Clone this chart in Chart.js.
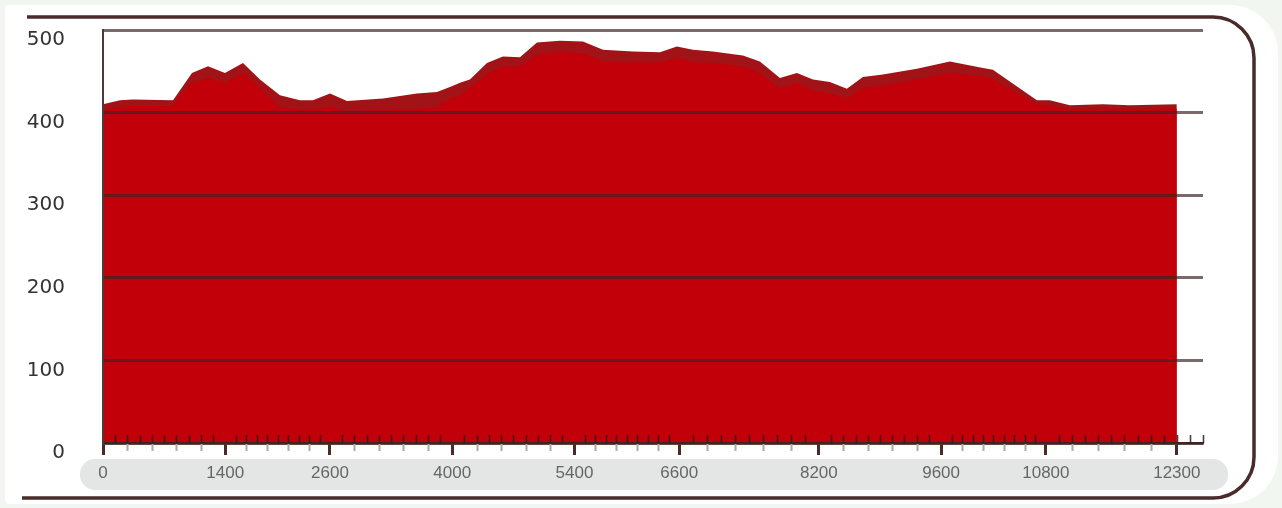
<!DOCTYPE html>
<html>
<head>
<meta charset="utf-8">
<script src="https://cdn.jsdelivr.net/npm/chart.js@4"></script>
<style>
  html, body { margin: 0; padding: 0; background: #f2f6f1; }
  #wrap { position: relative; width: 1282px; height: 508px; }
</style>
</head>
<body>
<div id="wrap"><canvas id="chartProfil"></canvas></div>
<script>
// Höhenprofil: Distanz (m) gegen Höhe (m), zwei Schichten (Kante dunkel, Fläche hell)
const DISTANZ = [0, 195, 344, 802, 882, 1019, 1203, 1397, 1603, 1798, 2027, 2256, 2405, 2600, 2795, 3207, 3596, 3825, 3974, 4089,
  4203, 4398, 4581, 4776, 4971, 5234, 5497, 5727, 6070, 6379, 6574, 6757, 6986, 7330, 7524, 7754, 7948, 8132, 8326, 8521,
  8704, 8933, 9323, 9701, 10079, 10193, 10697, 10846, 11075, 11453, 11762, 12300];
const HOEHE = [410, 415, 416, 415, 427, 448, 456, 448, 460, 440, 421, 415, 415, 423, 414, 417, 423, 425, 431, 436,
  440, 460, 468, 467, 485, 487, 486, 476, 474, 473, 480, 476, 474, 469, 462, 442, 448, 440, 437, 429,
  443, 446, 453, 462, 454, 452, 415, 415, 409, 410, 409, 410];
const HOEHE_INNEN = [404, 407, 408, 408, 421, 436, 442, 436, 448, 430, 407, 404, 403, 407, 402, 403, 404, 407, 417, 421,
  430, 446, 456, 456, 470, 474, 472, 462, 461, 461, 466, 462, 460, 456, 448, 429, 436, 427, 423, 417,
  430, 433, 440, 448, 444, 440, 410, 409, 404, 405, 404, 405];
const X_LABELS = [0, 1400, 2600, 4000, 5400, 6600, 8200, 9600, 10800, 12300];
const Y_TICKS = [0, 100, 200, 300, 400, 500];

const dunkel = '#4a2b29';

// Rahmen, weißer Hintergrund und graues Label-Band
const rahmen = {
  id: 'rahmen',
  beforeDraw(chart) {
    const c = chart.ctx;
    c.save();
    c.fillStyle = '#f2f6f1';
    c.fillRect(0, 0, chart.width, chart.height);
    c.fillStyle = '#ffffff';
    c.beginPath();
    c.roundRect(5, 5, 1273, 499, [4, 48, 48, 4]);
    c.fill();
    // Label-Band
    c.fillStyle = '#e4e5e5';
    c.beginPath();
    c.roundRect(80, 459, 1148, 31, 15);
    c.fill();
    // Rahmenlinie
    c.strokeStyle = dunkel;
    c.lineWidth = 3.5;
    c.beginPath();
    c.moveTo(27, 17);
    c.lineTo(1213, 17);
    c.arcTo(1254, 17, 1254, 58, 41);
    c.lineTo(1254, 457);
    c.arcTo(1254, 498, 1213, 498, 41);
    c.lineTo(22, 498);
    c.stroke();
    c.restore();
  },
  afterDraw(chart) {
    // Nebenstriche unter der Achse und kurze Striche im Diagramm
    const x = chart.scales.x, c = chart.ctx, y0 = chart.chartArea.bottom;
    c.save();
    for (let i = 0; i < X_LABELS.length - 1; i++) {
      const a = X_LABELS[i], b = X_LABELS[i + 1];
      c.strokeStyle = '#a9a9a9'; c.lineWidth = 2;
      for (let k = 1; k < 5; k++) {
        const px = Math.round(x.getPixelForValue(a + (b - a) * k / 5)) + 0.5;
        c.beginPath(); c.moveTo(px, y0 + 1); c.lineTo(px, y0 + 8); c.stroke();
      }
      c.strokeStyle = 'rgba(55,25,25,0.85)'; c.lineWidth = 1.6;
      for (let k = 1; k < 10; k++) {
        const px = Math.round(x.getPixelForValue(a + (b - a) * k / 10)) + 0.5;
        c.beginPath(); c.moveTo(px, y0); c.lineTo(px, y0 - 8); c.stroke();
      }
    }
    const n = X_LABELS.length;
    const schritt = (X_LABELS[n - 1] - X_LABELS[n - 2]) / 10;
    for (let k = 0; k <= 2; k++) {
      const px = Math.round(x.getPixelForValue(X_LABELS[n - 1] + schritt * k)) + 0.5;
      c.beginPath(); c.moveTo(px, y0); c.lineTo(px, y0 - 8); c.stroke();
    }
    c.restore();
  },
};

const punkte = (werte) => DISTANZ.map((d, i) => ({ x: d, y: werte[i] }));

new Chart(document.getElementById('chartProfil').getContext('2d'), {
  type: 'line',
  data: {
    datasets: [
      { label: 'Höhe innen', data: punkte(HOEHE_INNEN), backgroundColor: '#c1000a', borderWidth: 0, pointRadius: 0, fill: 'origin', tension: 0, order: 0 },
      { label: 'Höhe', data: punkte(HOEHE), backgroundColor: '#a11317', borderWidth: 0, pointRadius: 0, fill: 'origin', tension: 0, order: 1 },
    ],
  },
  options: {
    responsive: true,
    maintainAspectRatio: false,
    animation: false,
    layout: { padding: { left: 0, top: 30, right: 79, bottom: 0 } },
    plugins: { legend: { display: false }, tooltip: { enabled: false } },
    scales: {
      x: {
        type: 'linear', min: 0, max: 12600,
        afterBuildTicks: (s) => { s.ticks = X_LABELS.map((v) => ({ value: v })); },
        afterFit: (s) => { s.height = 65; },
        ticks: { autoSkip: false, maxRotation: 0, padding: 8, color: '#666', font: { family: 'Liberation Sans', size: 17 }, callback: (v) => String(v) },
        grid: { drawOnChartArea: false, drawTicks: true, tickLength: 12, tickColor: dunkel, tickWidth: 3, z: 1 },
        border: { display: true, color: dunkel, width: 2.5, z: 1 },
      },
      y: {
        min: 0, max: 500,
        afterBuildTicks: (s) => { s.ticks = Y_TICKS.map((v) => ({ value: v })); },
        afterFit: (s) => { s.width = 103; s.paddingTop = 0; s.paddingBottom = 0; },
        ticks: { padding: 38, labelOffset: 10, color: '#333', font: { family: 'DejaVu Sans', size: 20 } },
        grid: { drawTicks: false, color: 'rgba(60,35,35,0.68)', lineWidth: 3, z: 1 },
        border: { display: true, color: '#4a3a3a', width: 2, z: 1 },
      },
    },
  },
  plugins: [rahmen],
});
</script>
</body>
</html>
